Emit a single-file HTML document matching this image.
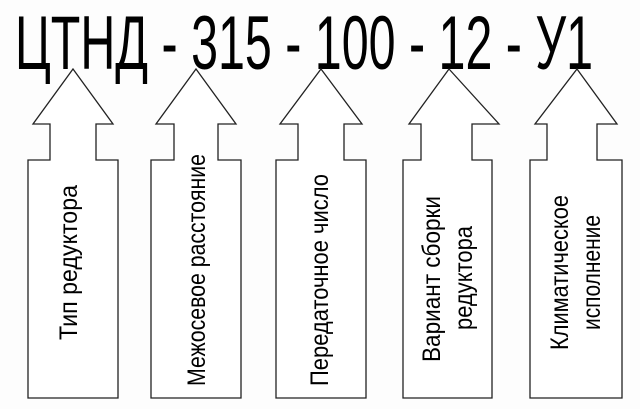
<!DOCTYPE html>
<html><head><meta charset="utf-8"><style>
html,body{margin:0;padding:0;background:#fff;}
svg{display:block;}
text{font-family:"Liberation Sans",sans-serif;fill:#000;}
</style></head><body>
<svg width="640" height="409" viewBox="0 0 640 409">
<rect width="640" height="409" fill="#fdfdfd"/>
<text x="15" y="69" font-size="76" textLength="578" lengthAdjust="spacingAndGlyphs">ЦТНД - 315 - 100 - 12 - У1</text>
<g fill="#fff" stroke="#222" stroke-width="1.3">
<polygon points="73,69 113,124 96,124 96,160 118,160 118,398 28,398 28,160 50,160 50,124 33,124"/>
<polygon points="196,69 236,124 218,124 218,160 241,160 241,398 151,398 151,160 174,160 174,124 156,124"/>
<polygon points="321,69 362,124 344,124 344,160 366,160 366,398 276,398 276,160 298,160 298,124 280,124"/>
<polygon points="449,69 499,124 472,124 472,160 492,160 492,398 403,398 403,160 421,160 421,124 409,124"/>
<polygon points="577,69 617,124 597,124 597,160 622,160 622,398 530,398 530,160 547,160 547,124 535,124"/>
</g>
<g font-size="25">
<text transform="translate(77,340) rotate(-90)" textLength="155" lengthAdjust="spacingAndGlyphs">Тип редуктора</text>
<text transform="translate(205,386) rotate(-90)" textLength="232" lengthAdjust="spacingAndGlyphs">Межосевое расстояние</text>
<text transform="translate(328,386) rotate(-90)" textLength="212" lengthAdjust="spacingAndGlyphs">Передаточное число</text>
<text transform="translate(440,362) rotate(-90)" textLength="166" lengthAdjust="spacingAndGlyphs">Вариант сборки</text>
<text transform="translate(472,330) rotate(-90)" textLength="104" lengthAdjust="spacingAndGlyphs">редуктора</text>
<text transform="translate(568,350) rotate(-90)" textLength="155" lengthAdjust="spacingAndGlyphs">Климатическое</text>
<text transform="translate(600,330) rotate(-90)" textLength="115" lengthAdjust="spacingAndGlyphs">исполнение</text>
</g>
</svg>
</body></html>
